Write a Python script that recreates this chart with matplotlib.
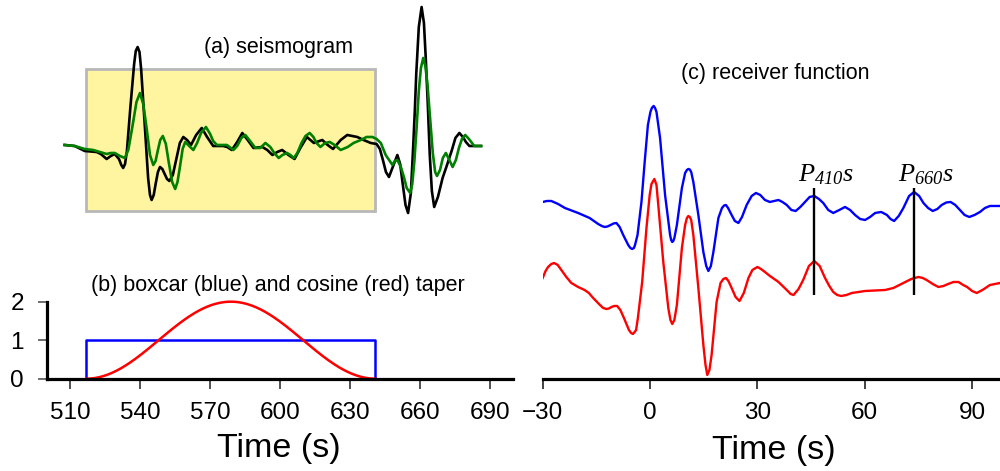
import matplotlib.pyplot as plt
import numpy as np
from matplotlib.patches import Rectangle

plt.rcParams['font.family'] = ['Liberation Sans', 'DejaVu Sans']
# phase labels are set in italic serif, digits included
plt.rcParams['mathtext.fontset'] = 'custom'
plt.rcParams['mathtext.rm'] = 'Liberation Serif:italic'
plt.rcParams['mathtext.it'] = 'Liberation Serif:italic'
plt.rcParams['lines.solid_joinstyle'] = 'round'

# (a) seismogram, raw trace (black) and filtered trace (green)
raw_t = [507.7, 512.0, 516.3, 521.4, 523.2, 525.7, 527.5, 529.2, 531.0, 532.0,
         532.8, 533.6, 534.4, 535.9, 537.5, 538.2, 539.0, 539.8, 540.5, 542.0,
         543.5, 544.3, 545.0, 545.9, 546.8, 547.7, 548.6, 549.6, 550.6, 551.6,
         552.6, 554.1, 555.6, 557.1, 558.6, 560.2, 561.9, 564.1, 566.5, 568.8,
         571.4, 575.7, 577.4, 579.4, 581.7, 583.9, 586.2, 588.7, 592.5, 594.6,
         596.8, 598.9, 601.0, 603.7, 606.3, 608.8, 611.6, 614.6, 618.2, 620.5,
         622.8, 626.1, 628.9, 633.2, 635.9, 639.0, 641.5, 642.9, 644.2, 645.5,
         646.8, 648.6, 650.4, 651.6, 652.7, 653.9, 655.0, 656.2, 657.2, 657.9,
         658.5, 659.6, 660.8, 661.8, 662.6, 663.5, 664.3, 665.2, 666.2, 667.8,
         669.8, 671.7, 673.8, 675.3, 677.0, 678.5, 679.8, 681.3, 686.3]
raw_amp = [0.00, -0.01, -0.06, -0.07, -0.09, -0.14, -0.11, -0.09, -0.14, -0.20,
           -0.23, -0.19, -0.06, 0.38, 0.81, 0.94, 0.98, 0.93, 0.76, 0.22,
           -0.33, -0.50, -0.55, -0.50, -0.38, -0.27, -0.22, -0.24, -0.29, -0.34,
           -0.36, -0.30, -0.14, 0.02, 0.08, 0.05, 0.00, 0.10, 0.17, 0.08,
           -0.01, -0.01, -0.02, -0.05, 0.03, 0.12, 0.05, -0.03, -0.02, -0.05,
           -0.10, -0.07, -0.05, -0.10, -0.14, -0.03, 0.08, 0.02, 0.05, 0.00,
           -0.04, 0.05, 0.10, 0.08, 0.05, 0.02, 0.01, -0.04, -0.15, -0.27,
           -0.32, -0.21, -0.10, -0.19, -0.39, -0.60, -0.68, -0.48, -0.01, 0.35,
           0.71, 1.18, 1.38, 1.22, 0.86, 0.38, -0.10, -0.46, -0.62, -0.52,
           -0.33, -0.20, -0.05, 0.07, 0.12, 0.08, 0.03, -0.01, -0.01]

filt_t = [507.7, 512.0, 516.3, 519.9, 522.8, 525.7, 527.5, 529.2, 531.4, 533.5,
          535.0, 536.8, 538.5, 540.0, 541.4, 542.9, 544.3, 545.7, 546.7, 547.7,
          548.7, 549.8, 551.1, 552.4, 553.8, 555.1, 556.1, 557.2, 558.3, 559.4,
          561.1, 562.9, 564.5, 566.2, 568.3, 570.1, 571.4, 573.0, 577.3, 580.1,
          581.7, 583.5, 585.2, 586.9, 589.5, 591.6, 593.8, 595.9, 597.6, 599.5,
          601.1, 603.1, 604.5, 606.0, 607.5, 609.3, 611.0, 612.8, 614.4, 615.7,
          617.4, 619.4, 621.4, 623.5, 626.1, 629.1, 631.6, 634.7, 637.2, 639.7,
          641.5, 643.3, 645.4, 648.3, 649.3, 650.4, 651.9, 653.2, 654.4, 655.9,
          656.8, 657.7, 658.7, 659.6, 660.5, 661.5, 662.4, 663.3, 664.4, 665.6,
          666.6, 667.4, 668.7, 669.9, 671.2, 672.7, 674.1, 675.5, 676.8, 678.1,
          679.5, 681.1, 683.4, 686.3]
filt_amp = [0.00, -0.01, -0.04, -0.05, -0.07, -0.09, -0.08, -0.08, -0.11, -0.13,
            -0.05, 0.19, 0.43, 0.52, 0.41, 0.16, -0.10, -0.20, -0.16, -0.05,
            0.05, 0.09, 0.01, -0.18, -0.37, -0.44, -0.37, -0.21, -0.04, 0.03,
            -0.01, -0.05, 0.02, 0.12, 0.18, 0.11, 0.04, 0.00, 0.00, -0.05,
            -0.01, 0.07, 0.10, 0.05, -0.03, -0.03, 0.02, -0.02, -0.08, -0.13,
            -0.10, -0.08, -0.10, -0.13, -0.08, 0.02, 0.09, 0.12, 0.08, 0.02,
            -0.02, 0.02, 0.03, 0.00, -0.05, -0.02, 0.02, 0.05, 0.08, 0.08,
            0.06, 0.02, -0.10, -0.20, -0.16, -0.15, -0.22, -0.32, -0.43, -0.48,
            -0.39, -0.16, 0.19, 0.54, 0.77, 0.87, 0.79, 0.61, 0.28, -0.08,
            -0.27, -0.31, -0.25, -0.13, -0.08, -0.15, -0.22, -0.15, -0.03, 0.06,
            0.10, 0.06, -0.01, -0.01]

# time window of the tapers (s)
win_start, win_end = 517, 641
boxcar_height = 1
cosine_height = 2

# (c) receiver functions: boxcar taper (blue) and cosine taper (red)
rf_box_t = [-30.0, -28.8, -27.6, -25.7, -23.8, -20.1, -16.9, -14.5, -13.5, -12.7,
            -11.9, -11.0, -10.2, -9.4, -8.5, -7.5, -6.1, -5.5, -5.0, -4.5,
            -4.2, -3.5, -2.4, -1.5, -0.6, 0.1, 0.5, 1.0, 1.4, 1.8,
            2.8, 4.2, 5.6, 5.9, 6.2, 6.5, 6.8, 7.5, 8.9, 9.8,
            10.3, 10.7, 11.1, 11.5, 12.1, 13.5, 14.9, 15.7, 16.3, 17.0,
            17.7, 19.1, 20.1, 20.7, 21.2, 21.8, 22.8, 23.7, 24.7, 25.7,
            27.0, 28.4, 29.6, 30.8, 32.1, 33.5, 34.7, 35.9, 37.0, 38.2,
            39.5, 40.7, 42.0, 43.3, 44.6, 45.9, 47.2, 48.4, 49.8, 51.2,
            52.9, 54.5, 55.9, 57.3, 58.7, 60.1, 61.5, 62.9, 64.6, 66.2,
            67.2, 68.2, 69.5, 70.8, 72.4, 73.8, 75.2, 76.4, 77.7, 79.0,
            80.3, 81.5, 82.8, 84.0, 85.3, 86.6, 87.9, 89.2, 90.7, 92.2,
            93.6, 95.0, 97.8]
rf_box = [0.03, 0.04, 0.04, 0.01, -0.03, -0.08, -0.13, -0.19, -0.21, -0.22,
          -0.215, -0.20, -0.185, -0.18, -0.22, -0.30, -0.40, -0.43, -0.44, -0.43,
          -0.40, -0.30, 0.03, 0.43, 0.80, 0.93, 0.97, 0.99, 0.97, 0.93,
          0.67, 0.10, -0.30, -0.35, -0.37, -0.36, -0.33, -0.20, 0.17, 0.32,
          0.35, 0.36, 0.355, 0.33, 0.23, -0.10, -0.47, -0.61, -0.66, -0.61,
          -0.47, -0.13, -0.03, -0.005, 0.00, -0.03, -0.10, -0.16, -0.18, -0.12,
          0.00, 0.09, 0.12, 0.10, 0.05, 0.03, 0.04, 0.05, 0.03, 0.00,
          -0.05, -0.06, -0.02, 0.03, 0.08, 0.09, 0.06, 0.02, -0.05, -0.08,
          -0.05, -0.02, -0.05, -0.10, -0.14, -0.15, -0.12, -0.08, -0.07, -0.10,
          -0.14, -0.16, -0.11, -0.03, 0.09, 0.13, 0.09, 0.02, -0.03, -0.06,
          -0.04, 0.00, 0.025, 0.03, 0.00, -0.05, -0.10, -0.12, -0.10, -0.07,
          -0.03, -0.01, -0.01]

rf_cos_t = [-30.0, -29.2, -28.5, -27.6, -26.8, -25.8, -24.8, -23.4, -22.0, -20.1,
            -18.3, -17.1, -15.9, -14.0, -13.1, -12.2, -11.5, -10.8, -10.0, -9.2,
            -8.3, -7.3, -5.9, -5.3, -4.8, -4.3, -3.9, -3.4, -2.2, -1.0,
            -0.1, 0.4, 1.2, 1.8, 2.3, 3.7, 5.1, 5.7, 6.2, 6.8,
            7.5, 8.9, 9.8, 10.3, 10.7, 11.1, 11.5, 12.1, 13.5, 14.9,
            15.5, 16.0, 16.6, 17.2, 18.6, 19.7, 20.5, 21.2, 21.9, 22.8,
            23.9, 25.0, 26.2, 27.5, 28.6, 30.0, 31.0, 32.1, 33.5, 35.9,
            38.2, 39.3, 40.1, 41.5, 42.8, 44.4, 45.9, 47.4, 48.9, 50.1,
            51.2, 52.3, 53.4, 54.9, 56.4, 60.1, 65.7, 68.0, 70.8, 73.0,
            75.0, 76.2, 77.3, 79.0, 80.6, 82.0, 83.3, 84.8, 86.2, 87.5,
            88.6, 90.0, 91.3, 92.9, 95.0, 97.8]
rf_cos = [0.07, 0.14, 0.18, 0.21, 0.22, 0.20, 0.15, 0.08, 0.02, -0.02,
          -0.05, -0.08, -0.13, -0.20, -0.23, -0.24, -0.235, -0.22, -0.21, -0.21,
          -0.25, -0.33, -0.45, -0.48, -0.49, -0.47, -0.45, -0.33, 0.03, 0.57,
          0.90, 1.01, 1.06, 1.00, 0.80, 0.23, -0.23, -0.35, -0.39, -0.35,
          -0.20, 0.37, 0.60, 0.67, 0.69, 0.68, 0.65, 0.50, -0.03, -0.60,
          -0.80, -0.90, -0.85, -0.70, -0.17, 0.02, 0.06, 0.07, 0.04, -0.03,
          -0.12, -0.16, -0.08, 0.07, 0.15, 0.18, 0.16, 0.13, 0.09, 0.03,
          -0.05, -0.09, -0.10, -0.04, 0.05, 0.19, 0.24, 0.19, 0.07, -0.01,
          -0.07, -0.10, -0.11, -0.10, -0.08, -0.06, -0.05, -0.03, 0.02, 0.06,
          0.08, 0.07, 0.05, 0.01, -0.02, -0.01, 0.01, 0.03, 0.03, 0.00,
          -0.02, -0.06, -0.08, -0.05, 0.00, 0.02]

phase_labels = [r'$P_{410}s$', r'$P_{660}s$']
phase_times = [45.9, 73.8]

box_shift = 0.8  # vertical offset of the boxcar trace above the cosine one

fig = plt.figure(figsize=(10, 4.71), dpi=100)

# ---- (a) seismogram with the window shaded
ax_a = fig.add_axes([0.0467, 0.5287, 0.4663, 0.4713])
ax_a.add_patch(Rectangle((win_start, -0.66), win_end - win_start, 1.42,
                         facecolor='#fff4a0', edgecolor='#b8b8b8', lw=2, zorder=1))
ax_a.plot(raw_t, raw_amp, color='black', lw=1.9, zorder=2)
ax_a.plot(filt_t, filt_amp, color='#008000', lw=1.9, zorder=3)
ax_a.set_xlim(500, 700)
ax_a.set_ylim(-0.77, 1.45)
ax_a.axis('off')

# ---- (b) the two tapers
ax_b = fig.add_axes([0.0467, 0.196, 0.4663, 0.1635])
tt = np.linspace(win_start, win_end, 200)
taper = cosine_height / 2 * (1 - np.cos(2 * np.pi * (tt - win_start) / (win_end - win_start)))
ax_b.plot([win_start, win_start, win_end, win_end], [0, boxcar_height, boxcar_height, 0],
          color='blue', lw=1.8, clip_on=False)
ax_b.plot(tt, taper, color='red', lw=1.8, clip_on=False)
ax_b.set_xlim(500, 700)
ax_b.set_ylim(0, 2)
for s in ['top', 'right']:
    ax_b.spines[s].set_visible(False)
for s in ['left', 'bottom']:
    ax_b.spines[s].set_linewidth(2.3)
ax_b.set_xticks(np.arange(510, 691, 30))
ax_b.set_yticks([0, 1, 2])
ax_b.tick_params(axis='x', length=7.5, width=1.2, color='#333333', labelsize=17.5, pad=9)
ax_b.tick_params(axis='y', length=6.3, width=1.2, color='#555555', labelsize=17.5, pad=10)

# ---- (c) receiver functions
ax_c = fig.add_axes([0.5427, 0.1947, 0.4573, 0.678])
ax_c.plot(rf_box_t, np.array(rf_box) + box_shift, color='blue', lw=1.7)
ax_c.plot(rf_cos_t, rf_cos, color='red', lw=1.7)
ax_c.vlines(phase_times, -0.10, 0.97, color='black', lw=1.7)
for lab, t in zip(phase_labels, phase_times):
    ax_c.text(t - 4.6, 1.04, lab, fontsize=19, ha='left', va='baseline')
ax_c.set_xlim(-30, 97.8)
ax_c.set_ylim(-0.943, 2.25)
for s in ['top', 'right', 'left']:
    ax_c.spines[s].set_visible(False)
ax_c.spines['bottom'].set_linewidth(2.3)
ax_c.set_yticks([])
ax_c.set_xticks([-30, 0, 30, 60, 90])
ax_c.tick_params(axis='x', length=7.5, width=1.2, color='#222222', labelsize=17.5, pad=9)

# panel titles and axis labels
fig.text(0.279, 1 - 47 / 471, '(a) seismogram', fontsize=15.5, ha='center', va='center')
fig.text(0.278, 1 - 285 / 471, '(b) boxcar (blue) and cosine (red) taper',
         fontsize=15.5, ha='center', va='center')
fig.text(0.7755, 1 - 73 / 471, '(c) receiver function', fontsize=15.5, ha='center', va='center')
fig.text(0.279, 1 - 448 / 471, 'Time (s)', fontsize=24.5, ha='center', va='center')
fig.text(0.774, 1 - 450 / 471, 'Time (s)', fontsize=24.5, ha='center', va='center')

fig.savefig('out.png', dpi=100)
